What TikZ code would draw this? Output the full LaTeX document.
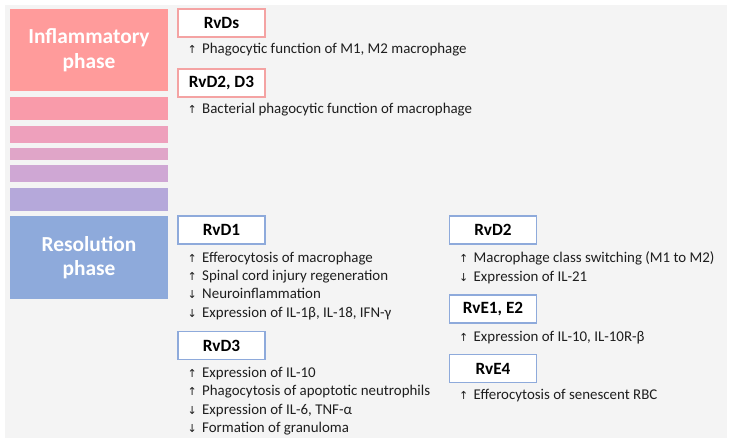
\documentclass[tikz,border=0pt]{standalone}
\usepackage{fontspec}
\setmainfont{Carlito}
\newfontfamily\arrowfont{DejaVu Sans}
\usetikzlibrary{positioning}
\definecolor{bggray}{HTML}{F4F4F4}
\definecolor{inflred}{HTML}{FF9B9B}
\definecolor{bandA}{HTML}{F99BAA}
\definecolor{bandB}{HTML}{EEA0BC}
\definecolor{bandC}{HTML}{E0A5C8}
\definecolor{bandD}{HTML}{CFA7D4}
\definecolor{bandE}{HTML}{B5A8DA}
\definecolor{resolblue}{HTML}{8EAADB}
\definecolor{pinkline}{HTML}{F4A3A3}
\definecolor{textgray}{HTML}{1E1E1E}
\newcommand{\rvup}{{\arrowfont\fontsize{11}{11}\selectfont ↑}\hspace{5.5pt}}
\newcommand{\rvdown}{{\arrowfont\fontsize{11}{11}\selectfont ↓}\hspace{5.5pt}}
\tikzset{
  phasebar/.style={
    rectangle, minimum width=158pt, inner sep=0pt,
    text=white, align=center,
    font=\fontsize{21.4}{24.5}\selectfont\bfseries,
  },
  inflbox/.style={
    rectangle, draw=pinkline, line width=1.4pt, fill=white,
    minimum width=87pt, minimum height=28pt, inner sep=0pt,
    font=\fontsize{17.2}{18}\selectfont\bfseries,
  },
  resolbox/.style={
    inflbox, draw=resolblue,
  },
  effect/.style={
    inner sep=0pt, align=left, text=textgray,
    font=\fontsize{14.9}{18.3}\selectfont,
  },
}
\begin{document}
\begin{tikzpicture}[x=1pt,y=1pt]
  \useasboundingbox (0,0) rectangle (733,443);
  \fill[bggray] (5,5) rectangle (727,438);

  % phase bars
  \node[phasebar, fill=inflred, minimum height=82pt] (infl) at (89,393) {Inflammatory\\phase};
  \node[phasebar, fill=bandA, minimum height=23pt] (bandA) at (89,334.5) {};
  \node[phasebar, fill=bandB, minimum height=17pt] (bandB) at (89,308.5) {};
  \node[phasebar, fill=bandC, minimum height=12pt] (bandC) at (89,289) {};
  \node[phasebar, fill=bandD, minimum height=17pt] (bandD) at (89,269.5) {};
  \node[phasebar, fill=bandE, minimum height=23pt] (bandE) at (89,243.5) {};
  \node[phasebar, fill=resolblue, minimum height=83pt] (resol) at (89,185.5) {Resolution\\phase};

  % inflammatory phase mediators
  \node[inflbox] (rvds) at (221.5,420) {RvDs};
  \node[effect, below right=5pt and 10pt of rvds.south west] (rvdsfx)
    {\rvup Phagocytic function of M1, M2 macrophage};
  \node[inflbox] (rvdtwothree) at (221.5,360) {RvD2, D3};
  \node[effect, below right=5pt and 10pt of rvdtwothree.south west] (rvdtwothreefx)
    {\rvup Bacterial phagocytic function of macrophage};

  % resolution phase mediators
  \node[resolbox] (rvdone) at (221.5,213) {RvD1};
  \node[effect, below right=7pt and 10pt of rvdone.south west] (rvdonefx)
    {\rvup Efferocytosis of macrophage\\
     \rvup Spinal cord injury regeneration\\
     \rvdown Neuroinflammation\\
     \rvdown Expression of IL-1β, IL-18, IFN-γ};
  \node[resolbox] (rvdthree) at (221.5,97.5) {RvD3};
  \node[effect, below right=7pt and 10pt of rvdthree.south west] (rvdthreefx)
    {\rvup Expression of IL-10\\
     \rvup Phagocytosis of apoptotic neutrophils\\
     \rvdown Expression of IL-6, TNF-α\\
     \rvdown Formation of granuloma};
  \node[resolbox] (rvdtwo) at (493,213) {RvD2};
  \node[effect, below right=7pt and 10pt of rvdtwo.south west] (rvdtwofx)
    {\rvup Macrophage class switching (M1 to M2)\\
     \rvdown Expression of IL-21};
  \node[resolbox] (rveonetwo) at (493,134) {RvE1, E2};
  \node[effect, below right=7pt and 10pt of rveonetwo.south west] (rveonetwofx)
    {\rvup Expression of IL-10, IL-10R-β};
  \node[resolbox] (rvefour) at (493,74.5) {RvE4};
  \node[effect, below right=6pt and 10pt of rvefour.south west] (rvefourfx)
    {\rvup Efferocytosis of senescent RBC};
\end{tikzpicture}
\end{document}
